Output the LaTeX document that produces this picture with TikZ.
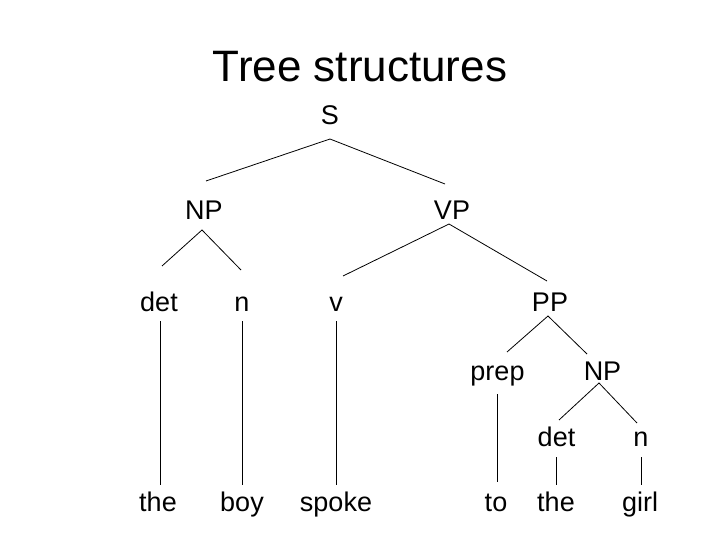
\documentclass[tikz,border=0pt]{standalone}
\usepackage{fontspec}
\setmainfont{Liberation Sans}
\begin{document}
\begin{tikzpicture}[x=1pt,y=-1pt,
  lbl/.style={anchor=base,inner sep=0pt,font=\fontsize{27}{31}\selectfont},
  ttl/.style={anchor=base,inner sep=0pt,font=\fontsize{44}{50}\selectfont},
  edge/.style={line width=0.8pt,black}]
\useasboundingbox[fill=white] (0,0) rectangle (720,540);
\node[ttl] (title) at (360,82) {Tree structures};
% nodes
\node[lbl] (S)   at (330,125) {S};
\node[lbl] (NP)  at (204,219) {NP};
\node[lbl] (VP)  at (452,219) {VP};
\node[lbl] (det) at (159,311.5) {det};
\node[lbl] (n)   at (242,311.5) {n};
\node[lbl] (v)   at (336,311.5) {v};
\node[lbl] (PP)  at (550,311.5) {PP};
\node[lbl] (prep) at (497.5,380) {prep};
\node[lbl] (NPb) at (602.5,380) {NP};
\node[lbl] (detb) at (556.5,446) {det};
\node[lbl] (nb)  at (641,446) {n};
\node[lbl] (the) at (158,511) {the};
\node[lbl] (boy) at (242,511) {boy};
\node[lbl] (spoke) at (336,511) {spoke};
\node[lbl] (to)  at (496,511) {to};
\node[lbl] (theb) at (556,511) {the};
\node[lbl] (girl) at (640,511) {girl};
% connector ends
\coordinate (S-d) at (330,139);
\coordinate (NP-u) at (206,181);
\coordinate (VP-u) at (445,184);
\coordinate (NP-d) at (202,230);
\coordinate (det-u) at (162,266);
\coordinate (n-u) at (241,270);
\coordinate (VP-d) at (449,224);
\coordinate (v-u) at (343,276);
\coordinate (PP-u) at (547,281);
\coordinate (PP-d) at (548,316);
\coordinate (prep-u) at (507,352);
\coordinate (NPb-u) at (587,354);
\coordinate (NPb-d) at (599,383);
\coordinate (detb-u) at (559,420);
\coordinate (nb-u) at (637,423);
\coordinate (det-d) at (160.7,321);
\coordinate (the-u) at (160.7,485);
\coordinate (n-d) at (242.3,321);
\coordinate (boy-u) at (242.3,485);
\coordinate (v-d) at (336.5,321);
\coordinate (spoke-u) at (336.5,485);
\coordinate (prep-d) at (497.5,394);
\coordinate (to-u) at (497.5,482);
\coordinate (detb-d) at (556.7,457);
\coordinate (theb-u) at (556.7,485);
\coordinate (nb-d) at (641.5,457);
\coordinate (girl-u) at (641.5,485);
% connectors
\draw[edge] (NP-u) -- (S-d) -- (VP-u);
\draw[edge] (det-u) -- (NP-d) -- (n-u);
\draw[edge] (v-u) -- (VP-d) -- (PP-u);
\draw[edge] (prep-u) -- (PP-d) -- (NPb-u);
\draw[edge] (detb-u) -- (NPb-d) -- (nb-u);
\draw[edge] (det-d) -- (the-u);
\draw[edge] (n-d) -- (boy-u);
\draw[edge] (v-d) -- (spoke-u);
\draw[edge] (prep-d) -- (to-u);
\draw[edge] (detb-d) -- (theb-u);
\draw[edge] (nb-d) -- (girl-u);
\end{tikzpicture}
\end{document}
